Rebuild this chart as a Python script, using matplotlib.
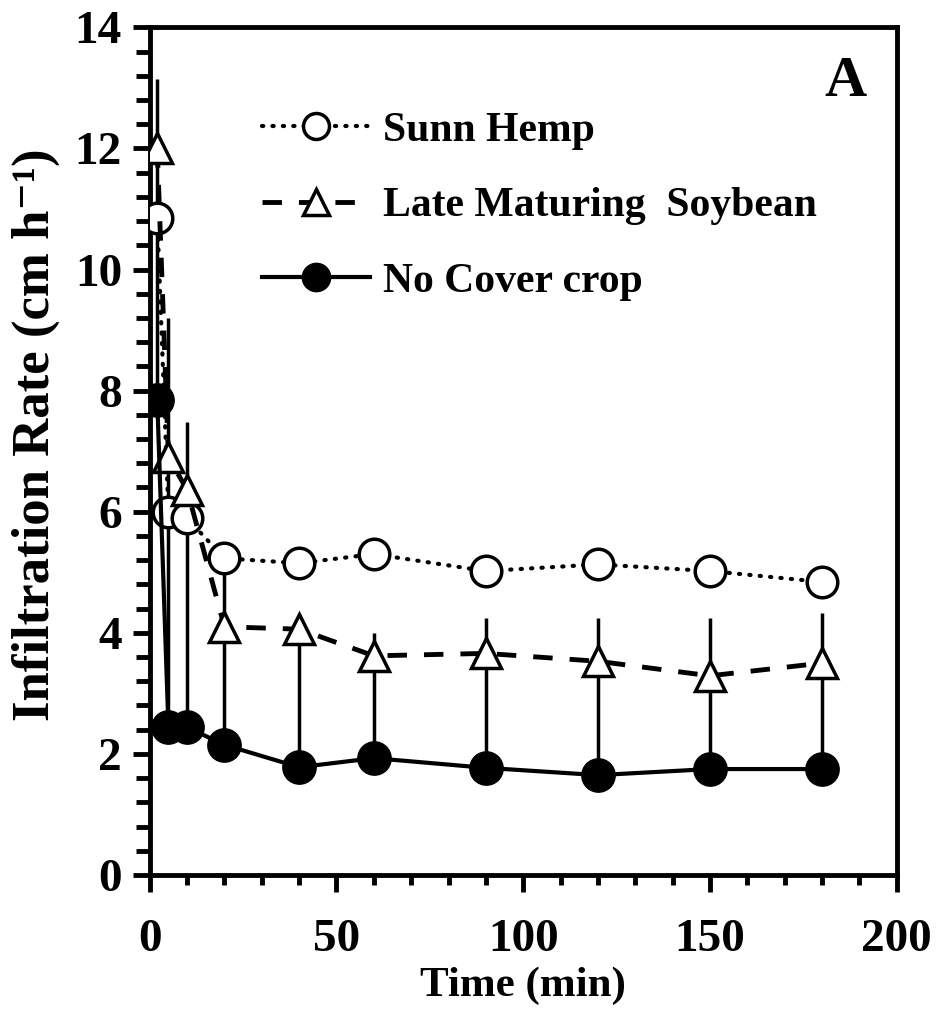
import numpy as np
import matplotlib
matplotlib.use("Agg")
import matplotlib.pyplot as plt
from matplotlib.ticker import MultipleLocator

plt.rcParams['font.family'] = ['Liberation Serif', 'DejaVu Serif']
plt.rcParams['font.weight'] = 'bold'

# Datos
time_min = [2, 5, 10, 20, 40, 60, 90, 120, 150, 180]
sunn_hemp = [10.85, 6.0, 5.89, 5.23, 5.15, 5.3, 5.02, 5.13, 5.02, 4.84]
soybean = [12.0, 6.9, 6.36, 4.1, 4.06, 3.62, 3.66, 3.53, 3.29, 3.5]
no_cover = [7.84, 2.44, 2.44, 2.15, 1.78, 1.93, 1.77, 1.65, 1.75, 1.75]
# limite superior de la barra de error (solo hacia arriba)
no_cover_top = [13.14, 9.2, 7.48, 5.2, 4.0, 4.0, 4.24, 4.24, 4.24, 4.33]

fig = plt.figure(figsize=(9.36, 10.11), dpi=100)
ax = fig.add_axes([0.160, 0.1345, 0.798, 0.8385])

err_up = np.array(no_cover_top) - np.array(no_cover)
ax.errorbar(time_min, no_cover, yerr=[np.zeros(len(err_up)), err_up],
            fmt='none', ecolor='black', elinewidth=2.5, capsize=0, zorder=1)

ax.plot(time_min, sunn_hemp, color='black', linestyle=(0, (0.3, 2.2)),
        dash_capstyle='round', linewidth=3, marker='o', markersize=22,
        markerfacecolor='white', markeredgecolor='black', markeredgewidth=2.5,
        label='Sunn Hemp', zorder=3)
ax.plot(time_min, soybean, color='black', linestyle=(0, (4, 3.5)),
        linewidth=3.5, marker='^', markersize=22,
        markerfacecolor='white', markeredgecolor='black', markeredgewidth=2.5,
        label='Late Maturing  Soybean', zorder=4)
ax.plot(time_min, no_cover, color='black', linestyle='-', linewidth=3,
        marker='o', markersize=24, markerfacecolor='black',
        markeredgecolor='black', label='No Cover crop', zorder=5)

ax.set_xlim(0, 200)
ax.set_ylim(0, 14)
ax.xaxis.set_major_locator(MultipleLocator(50))
ax.xaxis.set_minor_locator(MultipleLocator(10))
ax.yaxis.set_major_locator(MultipleLocator(2))
ax.yaxis.set_minor_locator(MultipleLocator(0.4))
ax.tick_params(axis='both', which='major', direction='out', length=12,
               width=3.5, labelsize=34, pad=8)
ax.tick_params(axis='x', which='minor', direction='out', length=7, width=3.5)
ax.tick_params(axis='y', which='minor', direction='out', length=10, width=3.5)
ax.tick_params(axis='x', which='major', pad=20)
for s in ax.spines.values():
    s.set_linewidth(3.5)

ax.set_xlabel('Time (min)', fontsize=31, fontweight='bold', labelpad=4)
ax.set_ylabel('Infiltration Rate (cm h\u207b\u00b9)', fontsize=38,
              fontweight='bold')
ax.yaxis.set_label_coords(-0.12, 0.52)

ax.text(0.96, 0.935, 'A', transform=ax.transAxes, fontsize=42,
        fontweight='bold', ha='right', va='center')

ax.legend(loc='upper left', bbox_to_anchor=(0.1, 0.945), frameon=False,
          fontsize=30, handlelength=2.6, labelspacing=0.9, handletextpad=0.3,
          markerscale=0.85)

fig.savefig('out.png', dpi=100)
